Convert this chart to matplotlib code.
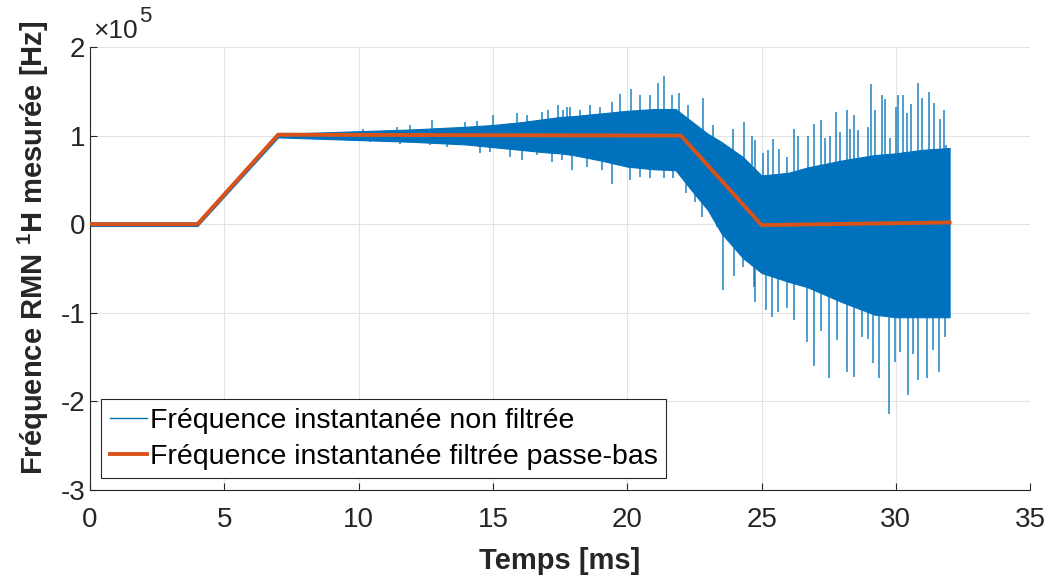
import numpy as np
import matplotlib
matplotlib.use("Agg")
import matplotlib.pyplot as plt
from matplotlib.ticker import FuncFormatter

# valeurs (Hz, en unites de 1e5)
t_filtre = [0, 4, 7, 22, 25, 32]
f_filtre = [0.0, 0.0, 1.01, 1.0, -0.01, 0.02]

# enveloppe du signal non filtre (coeur dense de la bande)
t_env = [0, 4, 7, 8, 10, 12, 14, 15, 16, 17, 17.5, 18, 19, 20, 21, 21.8, 22.4, 23,
         23.5, 24.3, 25, 26, 26.7, 28, 29.2, 30, 31, 32]
env_haut = [0.02, 0.02, 1.03, 1.03, 1.05, 1.07, 1.10, 1.12, 1.15, 1.19, 1.21, 1.22,
            1.25, 1.28, 1.30, 1.30, 1.16, 1.02, 0.93, 0.76, 0.55, 0.58, 0.64, 0.72,
            0.78, 0.80, 0.84, 0.86]
env_bas = [-0.02, -0.02, 0.98, 0.97, 0.95, 0.93, 0.90, 0.87, 0.84, 0.81, 0.80, 0.78,
           0.72, 0.65, 0.62, 0.61, 0.38, 0.16, -0.10, -0.38, -0.55, -0.65, -0.71,
           -0.88, -1.02, -1.05, -1.05, -1.05]

# pointes visibles au-dessus de la bande
pics_haut_t = [10.18, 11.42, 11.91, 12.72, 13.96, 14.4, 15.0, 15.89, 16.26, 16.82,
               17.06, 17.43, 17.62, 17.75, 17.87, 18.24, 18.62, 18.99, 19.42, 19.73,
               20.13, 20.48, 20.85, 21.16, 21.37, 21.66, 21.94, 22.27, 22.83, 23.2,
               23.95, 24.35, 24.63, 24.76, 25.04, 25.25, 25.44, 25.66, 25.94, 26.21,
               26.37, 26.71, 26.95, 27.2, 27.36, 27.55, 27.77, 27.92, 28.19, 28.29,
               28.44, 28.6, 28.98, 29.08, 29.22, 29.47, 29.6, 29.78, 30.0, 30.09,
               30.28, 30.4, 30.55, 30.81, 30.96, 31.25, 31.42, 31.64, 31.79, 31.87]
pics_haut_v = [1.08, 1.10, 1.12, 1.18, 1.15, 1.17, 1.23, 1.25, 1.23, 1.27,
               1.29, 1.34, 1.29, 1.32, 1.32, 1.29, 1.34, 1.32, 1.38, 1.47,
               1.53, 1.46, 1.46, 1.59, 1.67, 1.46, 1.48, 1.34, 1.42, 1.12,
               1.08, 1.15, 0.99, 0.95, 0.80, 0.84, 0.96, 0.85, 0.76, 1.07,
               0.99, 0.99, 1.13, 1.18, 0.97, 0.99, 1.27, 1.04, 1.29, 1.08,
               1.23, 1.06, 1.10, 1.58, 1.29, 1.46, 1.41, 0.97, 1.32, 1.46,
               1.46, 1.25, 1.36, 1.59, 1.42, 1.49, 1.37, 1.19, 1.29, 0.89]

# pointes visibles au-dessous de la bande
pics_bas_t = [10.42, 11.54, 12.66, 13.28, 14.52, 14.89, 15.64, 16.07, 16.63, 17.19,
              17.56, 17.93, 18.49, 19.05, 19.42, 20.1, 20.48, 20.85, 21.35, 21.72,
              22.19, 22.52, 22.77, 23.33, 23.58, 23.98, 24.3, 24.7, 24.76, 25.17,
              25.4, 25.63, 25.94, 26.22, 26.68, 26.95, 27.2, 27.51, 27.8, 28.17,
              28.44, 28.73, 28.98, 29.16, 29.39, 29.76, 29.97, 30.16, 30.44, 30.65,
              30.84, 31.17, 31.4, 31.61, 31.83]
pics_bas_v = [0.93, 0.91, 0.89, 0.87, 0.80, 0.82, 0.76, 0.72, 0.78, 0.70,
              0.72, 0.61, 0.65, 0.61, 0.45, 0.50, 0.53, 0.52, 0.52, 0.52,
              0.35, 0.25, 0.08, -0.03, -0.74, -0.59, -0.48, -0.71, -0.88, -0.97,
              -1.05, -0.99, -0.95, -1.08, -1.33, -1.60, -1.20, -1.74, -1.31, -1.67,
              -1.72, -1.27, -1.29, -1.57, -1.74, -2.14, -1.55, -1.44, -1.93, -1.46,
              -1.76, -1.74, -1.42, -1.67, -1.27]

echelle = 1e5
bleu = '#0072BD'
orange = '#D95319'
gris = '#262626'

plt.rcParams['font.family'] = ['Liberation Sans', 'DejaVu Sans']
plt.rcParams['axes.unicode_minus'] = False
plt.rcParams['mathtext.fontset'] = 'custom'
plt.rcParams['mathtext.rm'] = 'Liberation Sans'
plt.rcParams['mathtext.bf'] = 'Liberation Sans:bold'

fig = plt.figure(figsize=(10.48, 5.79), dpi=100)
ax = fig.add_axes([0.0859, 0.1537, 0.8971, 0.7651])

ax.fill_between(np.array(t_env), np.array(env_bas) * echelle,
                np.array(env_haut) * echelle, color=bleu, lw=0.8, zorder=2)
pics_t = pics_haut_t + pics_bas_t
pics_v = pics_haut_v + pics_bas_v
base = np.interp(pics_t, t_filtre, f_filtre)
ax.vlines(pics_t, base * echelle, np.array(pics_v) * echelle, color=bleu, lw=1.3,
          alpha=0.75, zorder=2)
ax.plot([], [], color=bleu, lw=1, label='Fréquence instantanée non filtrée')
ax.plot(t_filtre, np.array(f_filtre) * echelle, color=orange, lw=2.8, zorder=3,
        label='Fréquence instantanée filtrée passe-bas')

ax.set_xlim(0, 35)
ax.set_ylim(-3e5, 2e5)
ax.set_xticks(range(0, 36, 5))
ax.set_yticks(np.arange(-3, 3) * echelle)
ax.yaxis.set_major_formatter(FuncFormatter(lambda v, p: '%d' % round(v / echelle)))
# facteur d'echelle en haut a gauche
ax.text(0.003, 1.01, '×10', transform=ax.transAxes, fontsize=19,
        color=gris, ha='left', va='bottom')
ax.text(0.052, 1.045, '5', transform=ax.transAxes, fontsize=16,
        color=gris, ha='left', va='bottom')

ax.grid(True, color='#e3e3e3', lw=0.8)
ax.set_axisbelow(True)
for s in ['top', 'right']:
    ax.spines[s].set_visible(False)
for s in ['left', 'bottom']:
    ax.spines[s].set_color(gris)
ax.tick_params(direction='in', length=5, labelsize=20, colors=gris)
ax.tick_params(axis='x', pad=12)

ax.set_xlabel('Temps [ms]', fontsize=21, fontweight='bold', color=gris, labelpad=10)
ax.set_ylabel(r'Fréquence RMN $^{\mathbf{1}}$H mesurée [Hz]', fontsize=21,
              fontweight='bold', color=gris)
ax.yaxis.set_label_coords(-0.042, 0.546)

leg = ax.legend(loc='lower left', bbox_to_anchor=(0.012, 0.027), fontsize=20.5,
                fancybox=False, framealpha=1, edgecolor=gris,
                handlelength=1.3, handletextpad=0.1, borderpad=0.3,
                labelspacing=0.35, borderaxespad=0.0)
leg.get_frame().set_linewidth(0.8)

fig.savefig('out.png', dpi=100)
